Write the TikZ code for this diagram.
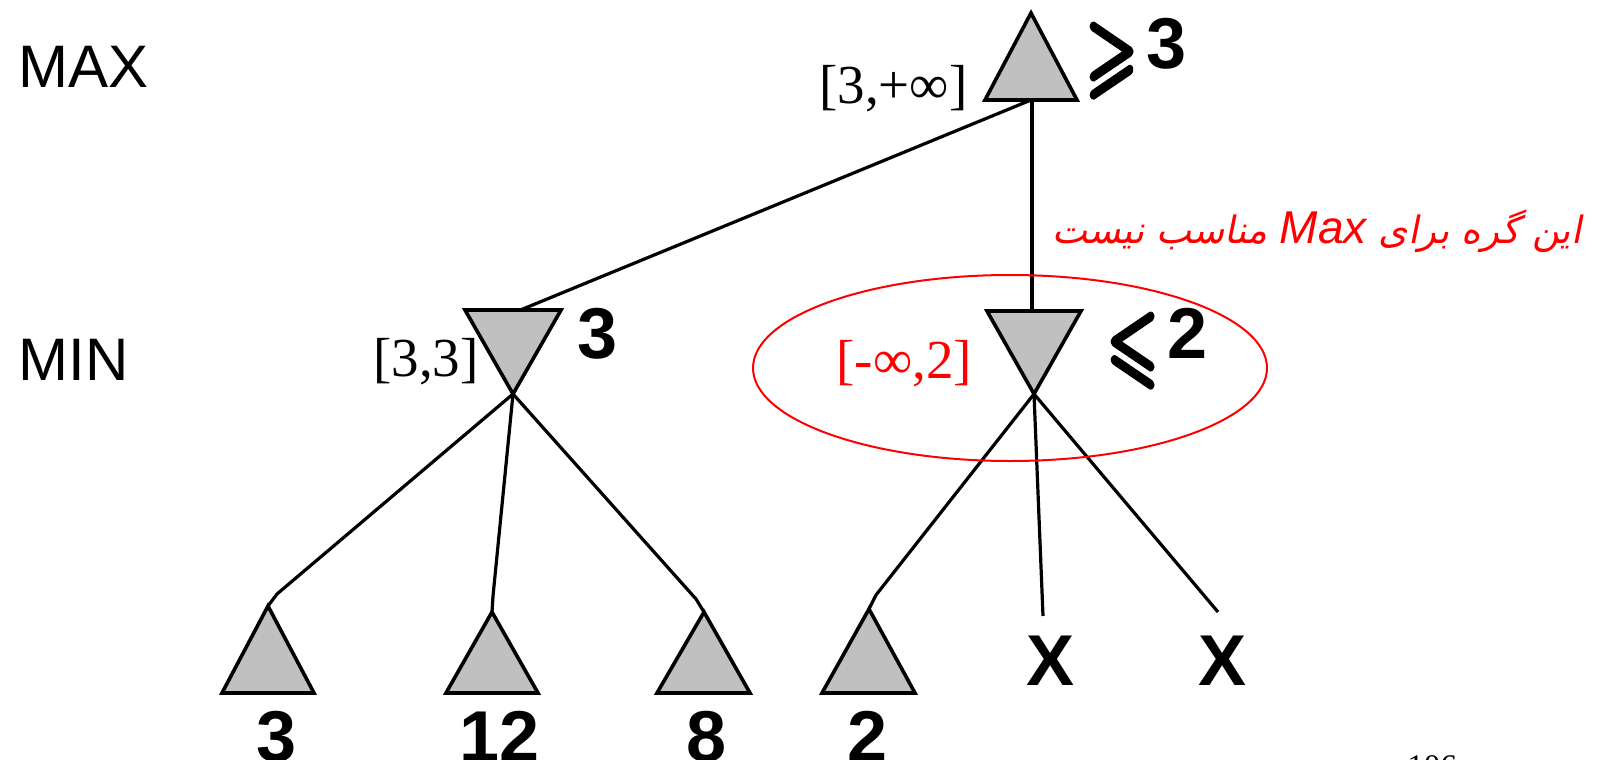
\documentclass[tikz,border=0pt]{standalone}
\usepackage{amsmath}
\usepackage{amssymb}
\usepackage{graphicx}
\usepackage{fontspec}
\setmainfont{Liberation Serif}
\newfontfamily\arialf{Liberation Sans}
\newfontfamily\arabicfont[Script=Arabic,FakeSlant=0.2]{DejaVu Sans}
\TeXXeTstate=1
\definecolor{trigray}{RGB}{192,192,192}
\definecolor{notered}{RGB}{255,0,0}
\newcommand{\heavysym}[1]{\special{pdf:literal direct 2 Tr 2.4 w 1 j}#1\special{pdf:literal direct 0 Tr 1 w 0 j}}
\newcommand{\relsym}[1]{\raisebox{-8pt}{\fontsize{36}{36}\selectfont\scalebox{0.9}[1.3]{\heavysym{$#1$}}}\hspace{5pt}}
\tikzset{
  tri/.style={fill=trigray, draw=black, line width=1.8pt, line join=miter},
  edge/.style={draw=black, line width=1.6pt},
  lvl/.style={inner sep=0pt, anchor=base west, font=\arialf\fontsize{30}{36}\selectfont},
  val/.style={inner sep=0pt, anchor=base west, font=\arialf\bfseries\fontsize{36}{40}\selectfont},
  leafval/.style={inner sep=0pt, anchor=base, font=\arialf\bfseries\fontsize{36}{40}\selectfont},
  rng/.style={inner sep=0pt, anchor=base west, font=\fontsize{27.5}{30}\selectfont},
}
\begin{document}
\begin{tikzpicture}[x=0.5pt,y=-0.5pt]
\useasboundingbox (0,0) rectangle (1606,760);
% level labels
\node[lvl] (maxlbl) at (18,87) {MAX};
\node[lvl] (minlbl) at (18,380) {MIN};
% coordinates of nodes
\coordinate (maxA) at (1031,13); \coordinate (maxB) at (1031,100);
\coordinate (m1A) at (513,394); \coordinate (m1B) at (513,310);
\coordinate (m2A) at (1034,394); \coordinate (m2B) at (1034,311);
\coordinate (l1A) at (268,606); \coordinate (l1k) at (277,594);
\coordinate (l2A) at (492,612); \coordinate (l2k) at (493,596);
\coordinate (l3A) at (704,612); \coordinate (l3k) at (696,599);
\coordinate (l4A) at (869,609); \coordinate (l4k) at (876,595);
\coordinate (x1T) at (1043,616);
\coordinate (x2T) at (1218,612);
% connectors
\draw[edge] (maxB) -- (518,311);
\draw[edge] (1032,100) -- (1032,311);
\draw[edge] (m1A) -- (l1k) -- (l1A);
\draw[edge] (m1A) -- (l2k) -- (l2A);
\draw[edge] (m1A) -- (l3k) -- (l3A);
\draw[edge] (m2A) -- (l4k) -- (l4A);
\draw[edge] (m2A) -- (x1T);
\draw[edge] (m2A) -- (x2T);
% triangles
\draw[tri] (maxA) -- (985,100) -- (1077,100) -- cycle;
\draw[tri] (m1A) -- (465,310) -- (561,310) -- cycle;
\draw[tri] (m2A) -- (987,311) -- (1081,311) -- cycle;
\draw[tri] (l1A) -- (222,693) -- (314,693) -- cycle;
\draw[tri] (l2A) -- (446,693) -- (538,693) -- cycle;
\draw[tri] (l3A) -- (657,693) -- (750,693) -- cycle;
\draw[tri] (l4A) -- (822,693) -- (915,693) -- cycle;
% values
\node[val] (maxv) at (1086,68) {\relsym{\geqslant}3};
\node[val] (m1v) at (577,358) {3};
\node[val] (m2v) at (1107,358) {\relsym{\leqslant}2};
\node[leafval] (l1v) at (277,761) {3};
\node[leafval] (l2v) at (500,761) {12};
\node[leafval] (l3v) at (707,761) {8};
\node[leafval] (l4v) at (868,761) {2};
\node[leafval] (x1) at (1050,685) {X};
\node[leafval] (x2) at (1222,685) {X};
% ranges
\node[rng] (maxr) at (819,103) {[3,+∞]};
\node[rng] (m1r) at (373,376) {[3,3]};
\node[rng, text=notered] (m2r) at (836,378) {[-∞,2]};
% ellipse and note
\draw[notered, line width=1pt] (1010,368) ellipse [x radius=257, y radius=93];
\node[inner sep=0pt, anchor=base east, text=notered, font=\arabicfont\fontsize{18.8}{24}\selectfont] (note) at (1582,243)
  {\beginR این گره برای \beginL{\arialf\itshape\fontsize{23}{26}\selectfont Max}\endL{} مناسب نیست\endR};
% page number
\node[inner sep=0pt, anchor=base west, font=\fontsize{16.5}{20}\selectfont] (pg) at (1407,777) {106};
\end{tikzpicture}
\end{document}
